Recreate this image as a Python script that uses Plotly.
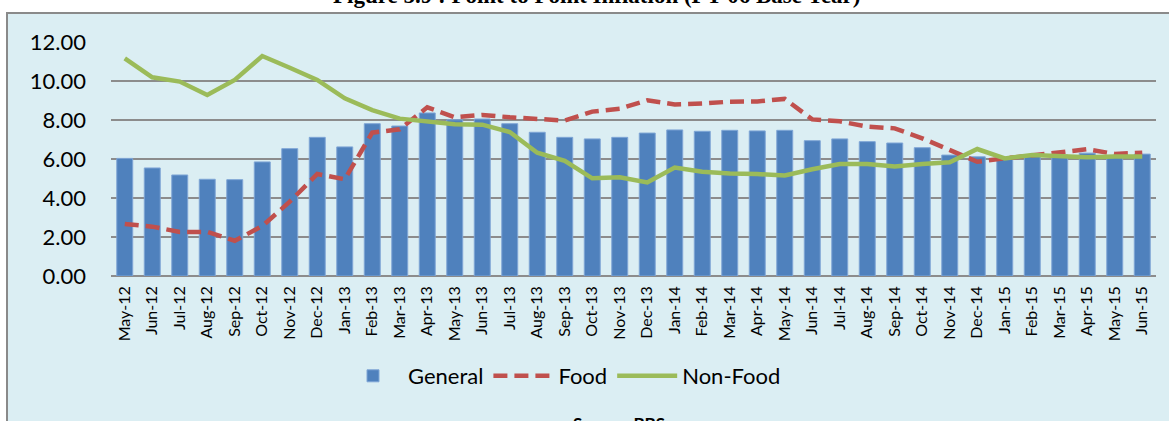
import plotly.graph_objects as go

months = ["May-12","Jun-12","Jul-12","Aug-12","Sep-12","Oct-12","Nov-12","Dec-12",
          "Jan-13","Feb-13","Mar-13","Apr-13","May-13","Jun-13","Jul-13","Aug-13",
          "Sep-13","Oct-13","Nov-13","Dec-13","Jan-14","Feb-14","Mar-14","Apr-14",
          "May-14","Jun-14","Jul-14","Aug-14","Sep-14","Oct-14","Nov-14","Dec-14",
          "Jan-15","Feb-15","Mar-15","Apr-15","May-15","Jun-15"]

general = [6.03, 5.54, 5.18, 4.96, 4.94, 5.85, 6.53, 7.11,
           6.62, 7.81, 7.69, 8.36, 8.01, 8.05, 7.81, 7.37,
           7.11, 7.03, 7.11, 7.33, 7.49, 7.42, 7.47, 7.44,
           7.47, 6.94, 7.03, 6.89, 6.82, 6.58, 6.20, 6.11,
           6.02, 6.18, 6.20, 6.30, 6.18, 6.25]

food = [2.67, 2.53, 2.26, 2.26, 1.81, 2.56, 3.81, 5.23,
        4.96, 7.35, 7.52, 8.65, 8.14, 8.26, 8.14, 8.07,
        7.97, 8.43, 8.58, 9.01, 8.80, 8.84, 8.94, 8.95,
        9.08, 8.03, 7.93, 7.66, 7.57, 7.06, 6.43, 5.86,
        6.03, 6.20, 6.38, 6.50, 6.26, 6.32]

non_food = [11.16, 10.19, 9.97, 9.28, 10.05, 11.28, 10.68, 10.05,
            9.11, 8.51, 8.07, 7.91, 7.78, 7.76, 7.38, 6.32,
            5.91, 5.01, 5.06, 4.80, 5.56, 5.35, 5.26, 5.23,
            5.15, 5.47, 5.74, 5.74, 5.61, 5.74, 5.83, 6.51,
            6.03, 6.20, 6.12, 6.09, 6.13, 6.13]

y_ticks = [0, 2, 4, 6, 8, 10, 12]

W, H = 1169, 421
PL, PR, PT, PB = 111, 1156, 41, 276
plot_h = PB - PT
plot_w = PR - PL

def py(Y):
    return (PB - Y) / plot_h

def px(X):
    return (X - PL) / plot_w

BG = "#DBEEF3"
GRID = "#8C8C8C"
FONT = "Lato"

fig = go.Figure()
fig.add_trace(go.Bar(x=months, y=general, name="General",
                     marker=dict(color="#4F81BD", line=dict(color="#7FA6D6", width=1))))
fig.add_trace(go.Scatter(x=months, y=food, name="Food", mode="lines",
                         line=dict(color="#C0504D", width=4.5, dash="14px,7px")))
fig.add_trace(go.Scatter(x=months, y=non_food, name="Non-Food", mode="lines",
                         line=dict(color="#9BBB59", width=4.5)))

fig.update_layout(
    width=W, height=H,
    margin=dict(l=PL, r=W - PR, t=PT, b=H - PB, pad=0, autoexpand=False),
    paper_bgcolor="white",
    plot_bgcolor=BG,
    bargap=0.42,
    font=dict(family=FONT, color="black"),
    showlegend=True,
    legend=dict(orientation="h", x=px(562), xanchor="center", y=py(376), yanchor="middle",
                font=dict(size=22, family=FONT), bgcolor="rgba(0,0,0,0)",
                itemwidth=60, tracegroupgap=0),
    xaxis=dict(type="category", tickangle=-90, tickfont=dict(size=16, family=FONT),
               showgrid=False, ticks="", ticklabelstandoff=6, range=[-0.5, len(months) - 0.5]),
    yaxis=dict(range=[0, 12.05], tickvals=y_ticks,
               ticktext=[f"{v:.2f}" for v in y_ticks],
               tickfont=dict(size=22, family=FONT),
               showgrid=True, gridcolor=GRID, gridwidth=1.6,
               zeroline=True, zerolinecolor=GRID, zerolinewidth=1.6,
               ticks="", ticklabelstandoff=24),
    shapes=[dict(type="rect", xref="paper", yref="paper",
                 x0=px(7), x1=1.2, y0=-1.0, y1=py(13),
                 fillcolor=BG, line=dict(color="#8A8A8A", width=2), layer="below")],
    annotations=[
        dict(text="<b>Figure 5.9 : Point to Point Inflation (FY 06 Base Year)</b>",
             xref="paper", yref="paper", x=px(596), y=py(-4.5), xanchor="center", yanchor="middle",
             showarrow=False, font=dict(family="Liberation Serif", size=23, color="black")),
        dict(text="<b>Source: BBS</b>", xref="paper", yref="paper",
             x=px(619), y=py(423), xanchor="center", yanchor="middle",
             showarrow=False, font=dict(family=FONT, size=17, color="black")),
    ],
)

fig.write_html("out.html", config={"displayModeBar": False},
               post_script="document.body.style.margin='0';document.body.style.padding='0';")
